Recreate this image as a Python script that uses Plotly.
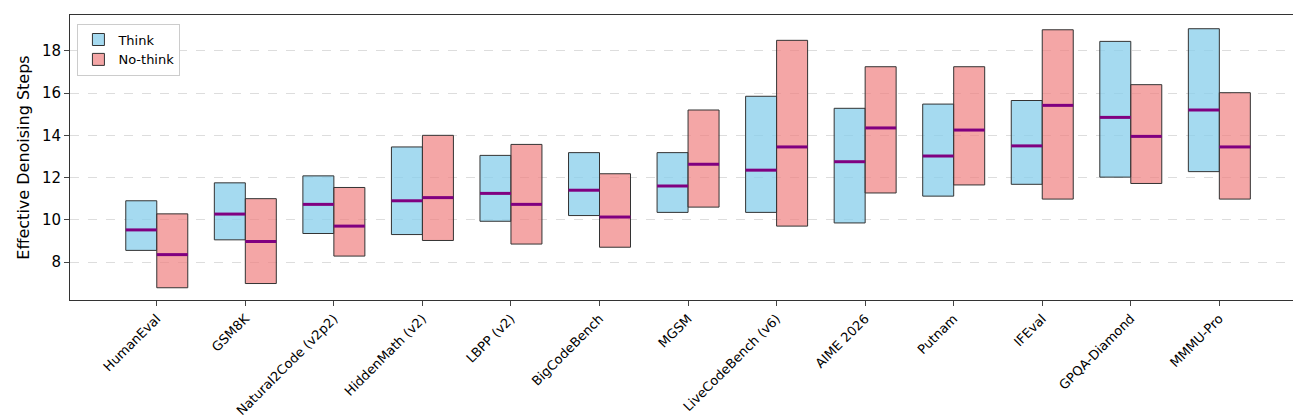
import plotly.graph_objects as go

# Benchmarks
benchmarks = ["HumanEval", "GSM8K", "Natural2Code (v2p2)", "HiddenMath (v2)", "LBPP (v2)",
              "BigCodeBench", "MGSM", "LiveCodeBench (v6)", "AIME 2026", "Putnam",
              "IFEval", "GPQA-Diamond", "MMMU-Pro"]

# Think: low, high, median
think_low = [8.55, 9.05, 9.35, 9.3, 9.93, 10.2, 10.35, 10.35, 9.85, 11.12, 11.68, 12.02, 12.28]
think_high = [10.9, 11.75, 12.08, 13.45, 13.05, 13.18, 13.18, 15.85, 15.28, 15.48, 15.65, 18.45, 19.05]
think_med = [9.52, 10.27, 10.73, 10.9, 11.25, 11.4, 11.6, 12.35, 12.75, 13.02, 13.5, 14.85, 15.2]

# No-think: low, high, median
nothink_low = [6.78, 6.98, 8.28, 9.02, 8.85, 8.7, 10.6, 9.7, 11.27, 11.65, 10.98, 11.72, 10.98]
nothink_high = [10.28, 11.0, 11.53, 14.0, 13.57, 12.18, 15.2, 18.5, 17.25, 17.25, 19.0, 16.4, 16.02]
nothink_med = [8.35, 8.97, 9.7, 11.05, 10.73, 10.13, 12.63, 13.45, 14.35, 14.25, 15.42, 13.95, 13.45]

W = 0.35
xs = list(range(len(benchmarks)))

fig = go.Figure()
fig.add_trace(go.Bar(x=xs, y=[h - l for h, l in zip(think_high, think_low)], base=think_low,
                     width=W, offset=-W, name="Think",
                     marker=dict(color="rgba(135,206,235,0.75)", line=dict(color="#333333", width=1))))
fig.add_trace(go.Bar(x=xs, y=[h - l for h, l in zip(nothink_high, nothink_low)], base=nothink_low,
                     width=W, offset=0, name="No-think",
                     marker=dict(color="rgba(240,128,128,0.7)", line=dict(color="#333333", width=1))))

# Median lines
mx, my = [], []
for i in xs:
    mx += [i - W, i, None, i, i + W, None]
    my += [think_med[i], think_med[i], None, nothink_med[i], nothink_med[i], None]
fig.add_trace(go.Scatter(x=mx, y=my, mode="lines", line=dict(color="purple", width=3),
                         showlegend=False, hoverinfo="skip"))

fig.update_layout(
    width=1301, height=417, template="plotly_white",
    margin=dict(l=62, r=2, t=7, b=125, autoexpand=False),
    font=dict(family="DejaVu Sans", color="black"),
    barmode="overlay", plot_bgcolor="white",
    legend=dict(x=0.006, y=0.97, xanchor="left", yanchor="top", bgcolor="white",
                bordercolor="#cccccc", borderwidth=1, font=dict(size=13)),
)
fig.update_xaxes(range=[-0.98, 12.99], tickmode="array", tickvals=xs, ticktext=benchmarks,
                 tickangle=-45, tickfont=dict(size=13), showgrid=False, showline=True, mirror=True,
                 linecolor="#333333", ticks="outside", ticklen=5, zeroline=False, automargin=False)
fig.update_yaxes(range=[6.2, 19.7], dtick=2, tickfont=dict(size=15),
                 title=dict(text="Effective Denoising Steps", font=dict(size=16), standoff=8),
                 showgrid=True, gridcolor="#dddddd", griddash="dash", showline=True, mirror=True,
                 linecolor="#333333", ticks="outside", ticklen=5, zeroline=False, automargin=False)

fig.write_html("out.html")
